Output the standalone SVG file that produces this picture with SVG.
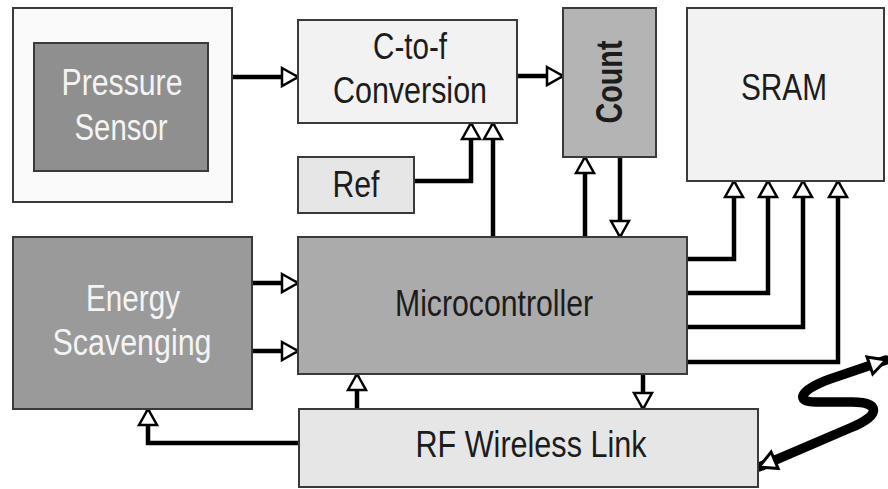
<svg xmlns="http://www.w3.org/2000/svg" width="888" height="489" viewBox="0 0 888 489">
<style>
.box{stroke:#3a3a3a;stroke-width:2}
.t{font-family:"Liberation Sans",Arial,sans-serif;font-size:37px;text-anchor:middle;fill:#1c1c1c}
.w{fill:#f4f4f4}
.c{fill:none;stroke:#000;stroke-width:4.5;marker-end:url(#ah)}
</style>
<defs>
<marker id="ah" markerUnits="userSpaceOnUse" markerWidth="24" markerHeight="24" refX="18" refY="11" orient="auto">
<path d="M2,2 L18,11 L2,20 Z" fill="#fff" stroke="#000" stroke-width="2.5" stroke-linejoin="miter"/>
</marker>
<marker id="ah2" markerUnits="userSpaceOnUse" markerWidth="26" markerHeight="26" refX="19" refY="11" orient="auto-start-reverse">
<path d="M2,2 L19,11 L2,20 Z" fill="#fff" stroke="#000" stroke-width="3"/>
</marker>
</defs>
<rect width="888" height="489" fill="#fff"/>
<g id="connectors">
<path class="c" d="M232,77 H298"/>
<path class="c" d="M517,76 H563"/>
<path class="c" d="M414,181 H471 V123"/>
<path class="c" d="M493,237 V123"/>
<path class="c" d="M585,237 V157"/>
<path class="c" d="M620,157 V237"/>
<path class="c" d="M687,259 H734 V181"/>
<path class="c" d="M687,293 H768 V181"/>
<path class="c" d="M687,327 H803 V181"/>
<path class="c" d="M687,362 H838 V181"/>
<path class="c" d="M252,283 H298"/>
<path class="c" d="M252,351 H298"/>
<path class="c" d="M357,409 V374"/>
<path class="c" d="M643,374 V409"/>
<path class="c" d="M299,443 H148 V409"/>
<path d="M759,467 L850,428 C882,415 880,402 852,402 L816,402 C794,402 800,390 830,379 L886,360" fill="none" stroke="#000" stroke-width="9.5" stroke-linejoin="round" stroke-linecap="round" marker-start="url(#ah2)" marker-end="url(#ah2)"/>
</g>
<g id="pressure-sensor">
<rect class="box" x="13" y="8" width="219" height="194" fill="#fafafa"/>
<rect class="box" x="34" y="43" width="174" height="128" fill="#8f8f8f"/>
<text class="t w" x="122" y="95" textLength="121" lengthAdjust="spacingAndGlyphs">Pressure</text>
<text class="t w" x="121" y="140" textLength="93" lengthAdjust="spacingAndGlyphs">Sensor</text>
</g>
<g id="c-to-f">
<rect class="box" x="298" y="20" width="219" height="103" fill="#f2f2f2"/>
<text class="t" x="410" y="59" textLength="74" lengthAdjust="spacingAndGlyphs">C-to-f</text>
<text class="t" x="410" y="103" textLength="154" lengthAdjust="spacingAndGlyphs">Conversion</text>
</g>
<g id="count">
<rect class="box" x="563" y="8" width="93" height="149" fill="#b4b4b4"/>
<text class="t" x="0" y="0" font-weight="bold" font-size="33" textLength="83" lengthAdjust="spacingAndGlyphs" transform="translate(622,82) rotate(-90)">Count</text>
</g>
<g id="sram">
<rect class="box" x="687" y="8" width="197" height="173" fill="#f2f2f2"/>
<text class="t" x="784" y="100" textLength="86" lengthAdjust="spacingAndGlyphs">SRAM</text>
</g>
<g id="ref">
<rect class="box" x="298" y="157" width="116" height="56" fill="#e6e6e6"/>
<text class="t" x="356" y="197" textLength="47" lengthAdjust="spacingAndGlyphs">Ref</text>
</g>
<g id="energy-scavenging">
<rect class="box" x="13" y="237" width="239" height="172" fill="#9a9a9a"/>
<text class="t w" x="133" y="311" textLength="94" lengthAdjust="spacingAndGlyphs">Energy</text>
<text class="t w" x="132" y="355" textLength="159" lengthAdjust="spacingAndGlyphs">Scavenging</text>
</g>
<g id="microcontroller">
<rect class="box" x="298" y="237" width="389" height="137" fill="#ababab"/>
<text class="t" x="494" y="316" textLength="198" lengthAdjust="spacingAndGlyphs">Microcontroller</text>
</g>
<g id="rf-wireless-link">
<rect class="box" x="299" y="409" width="459" height="78" fill="#e6e6e6"/>
<text class="t" x="531" y="457" textLength="231" lengthAdjust="spacingAndGlyphs">RF Wireless Link</text>
</g>
</svg>
